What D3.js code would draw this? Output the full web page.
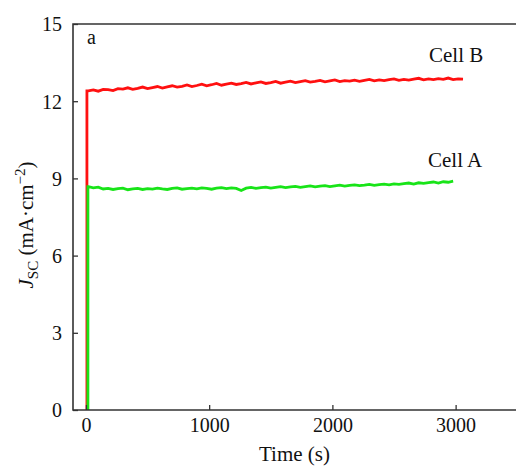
<!DOCTYPE html>
<html>
<head>
<meta charset="utf-8">
<title>Jsc vs time</title>
<script src="https://d3js.org/d3.v7.min.js"></script>
<style>
  body { margin: 0; background: #fff; }
  text { font-family: "Liberation Serif", "DejaVu Serif", serif; fill: #111; }
</style>
</head>
<body>
<div id="output"></div>
<script>
// sample times (s) and measured Jsc (mA/cm2)
var riseB = 8, riseA = 16;                      // moment the light was switched on
var timeB = d3.range(20, 3061, 40);
var timeA = d3.range(20, 2981, 40);
var cellB = [12.40,12.44,12.39,12.46,12.45,12.41,12.49,12.47,12.52,12.46,12.50,12.55,12.49,12.53,12.57,12.51,
             12.56,12.60,12.55,12.58,12.63,12.57,12.61,12.66,12.60,12.64,12.69,12.62,12.66,12.70,12.65,12.68,
             12.73,12.67,12.71,12.75,12.69,12.72,12.77,12.70,12.74,12.78,12.72,12.76,12.80,12.74,12.77,12.81,
             12.75,12.79,12.83,12.76,12.80,12.78,12.82,12.77,12.81,12.85,12.79,12.83,12.80,12.84,12.87,12.81,
             12.85,12.82,12.86,12.89,12.83,12.87,12.84,12.88,12.85,12.90,12.84,12.87,12.86];
var cellA = [8.68,8.63,8.66,8.59,8.61,8.57,8.60,8.62,8.56,8.59,8.61,8.57,8.60,8.58,8.62,8.59,
             8.57,8.61,8.63,8.58,8.60,8.62,8.59,8.63,8.61,8.58,8.62,8.64,8.60,8.63,8.61,8.53,
             8.62,8.65,8.61,8.64,8.66,8.62,8.65,8.68,8.64,8.67,8.69,8.65,8.68,8.71,8.67,8.70,
             8.72,8.68,8.71,8.74,8.70,8.73,8.75,8.72,8.74,8.77,8.73,8.76,8.78,8.75,8.79,8.77,
             8.80,8.82,8.78,8.83,8.81,8.84,8.86,8.82,8.87,8.85,8.89];
var xTicks = [0, 1000, 2000, 3000];
var yTicks = [0, 3, 6, 9, 12, 15];

var w = 516, h = 466;
var pLeft = 73, pRight = 516, pTop = 24, pBottom = 410;

var x = d3.scaleLinear().domain([-105, 3490]).range([pLeft, pRight]);
var y = d3.scaleLinear().domain([0, 15]).range([pBottom, pTop]);

var svg = d3.select("#output").append("svg")
    .attr("width", w)
    .attr("height", h);

function series(times, vals, rise) {
    var pts = [[rise, 0], [rise, vals[0]]];
    times.forEach(function(t, i){ pts.push([t, vals[i]]); });
    return pts;
}

var line = d3.line()
    .x(function(d){ return x(d[0]); })
    .y(function(d){ return y(d[1]); });

svg.append("path")
    .attr("d", line(series(timeB, cellB, riseB)))
    .attr("fill", "none")
    .attr("stroke", "#ff1010")
    .attr("stroke-width", 2.8);

svg.append("path")
    .attr("d", line(series(timeA, cellA, riseA)))
    .attr("fill", "none")
    .attr("stroke", "#18e418")
    .attr("stroke-width", 2.8);

// axes, ticks pointing inward
var xAxis = d3.axisTop(x).tickValues(xTicks).tickSize(5).tickFormat(d3.format("d"));
var yAxis = d3.axisRight(y).tickValues(yTicks).tickSize(5);

var gx = svg.append("g").attr("transform", "translate(0," + pBottom + ")").call(xAxis);
gx.select(".domain").remove();
gx.selectAll("line").attr("stroke", "#333").attr("stroke-width", 1.3);
gx.selectAll("text").attr("y", 22).attr("dy", 0).style("font-size", "20px");

var gy = svg.append("g").attr("transform", "translate(" + pLeft + ",0)").call(yAxis);
gy.select(".domain").remove();
gy.selectAll("line").attr("stroke", "#333").attr("stroke-width", 1.3);
gy.selectAll("text").attr("x", -11).attr("dy", "0.34em").attr("text-anchor", "end")
    .style("font-size", "20px");

// frame: left, bottom and top lines
svg.append("path")
    .attr("d", "M" + pRight + "," + pTop + "H" + pLeft + "V" + pBottom + "H" + pRight)
    .attr("fill", "none")
    .attr("stroke", "#333")
    .attr("stroke-width", 1.6);

svg.append("text").attr("x", 87).attr("y", 44).style("font-size", "20px").text("a");
svg.append("text").attr("x", 429).attr("y", 62).style("font-size", "21px").text("Cell B");
svg.append("text").attr("x", 428).attr("y", 167).style("font-size", "21px").text("Cell A");

svg.append("text").attr("x", (pLeft + pRight) / 2).attr("y", 461)
    .attr("text-anchor", "middle").style("font-size", "21px").text("Time (s)");

var ylab = svg.append("text")
    .attr("transform", "translate(33,225) rotate(-90)")
    .attr("text-anchor", "middle")
    .style("font-size", "21px");
ylab.append("tspan").style("font-style", "italic").text("J");
ylab.append("tspan").attr("dy", 5).style("font-size", "15px").text("SC");
ylab.append("tspan").attr("dy", -5).text(" (mA\u00b7cm");
ylab.append("tspan").attr("dy", -8).style("font-size", "15px").text("\u22122");
ylab.append("tspan").attr("dy", 8).text(")");
</script>
</body>
</html>
